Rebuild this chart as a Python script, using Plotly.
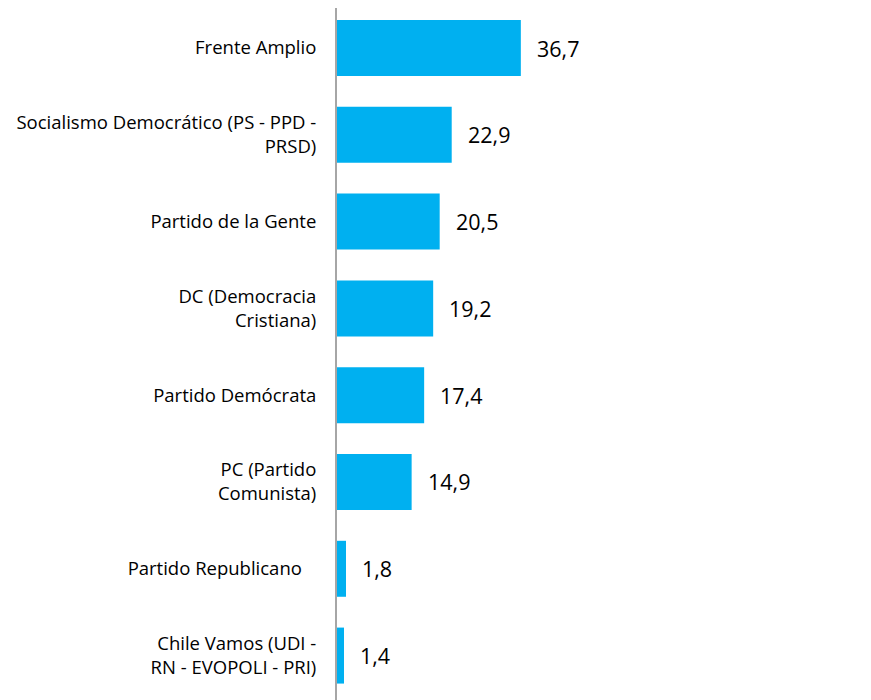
import plotly.graph_objects as go

categories = [
    "Frente Amplio",
    "Socialismo Democrático (PS - PPD -<br>PRSD)",
    "Partido de la Gente",
    "DC (Democracia<br>Cristiana)",
    "Partido Demócrata",
    "PC (Partido<br>Comunista)",
    "Partido Republicano\u00a0\u00a0\u00a0",
    "Chile Vamos (UDI -<br>RN - EVOPOLI - PRI)",
]
values = [36.7, 22.9, 20.5, 19.2, 17.4, 14.9, 1.8, 1.4]
labels = [f"{v:.1f}".replace(".", ",") for v in values]

fig = go.Figure(
    go.Bar(
        x=values,
        y=categories,
        orientation="h",
        marker=dict(color="#00B0F0", line=dict(width=0)),
        hoverinfo="skip",
    )
)

for v, c, t in zip(values, categories, labels):
    fig.add_annotation(
        x=v, y=c, text=t, showarrow=False, xanchor="left", xshift=14,
        font=dict(family="Open Sans", size=21.5, color="#000000"),
    )

fig.update_layout(
    width=871,
    height=700,
    margin=dict(l=329, r=0, t=0, b=0),
    paper_bgcolor="white",
    plot_bgcolor="white",
    bargap=0.355,
    showlegend=False,
    font=dict(family="Open Sans", size=18.5, color="#000000"),
)
fig.update_xaxes(range=[0, 108.2], visible=False, showgrid=False, zeroline=False, automargin=False)
fig.update_yaxes(
    range=[7.604, -0.461],
    automargin=False,
    showline=True,
    linecolor="#A6A6A6",
    linewidth=2,
    showgrid=False,
    ticks="",
    ticklabelstandoff=15,
    tickfont=dict(family="Open Sans", size=18.5, color="#000000"),
)

fig.write_html("out.html")
